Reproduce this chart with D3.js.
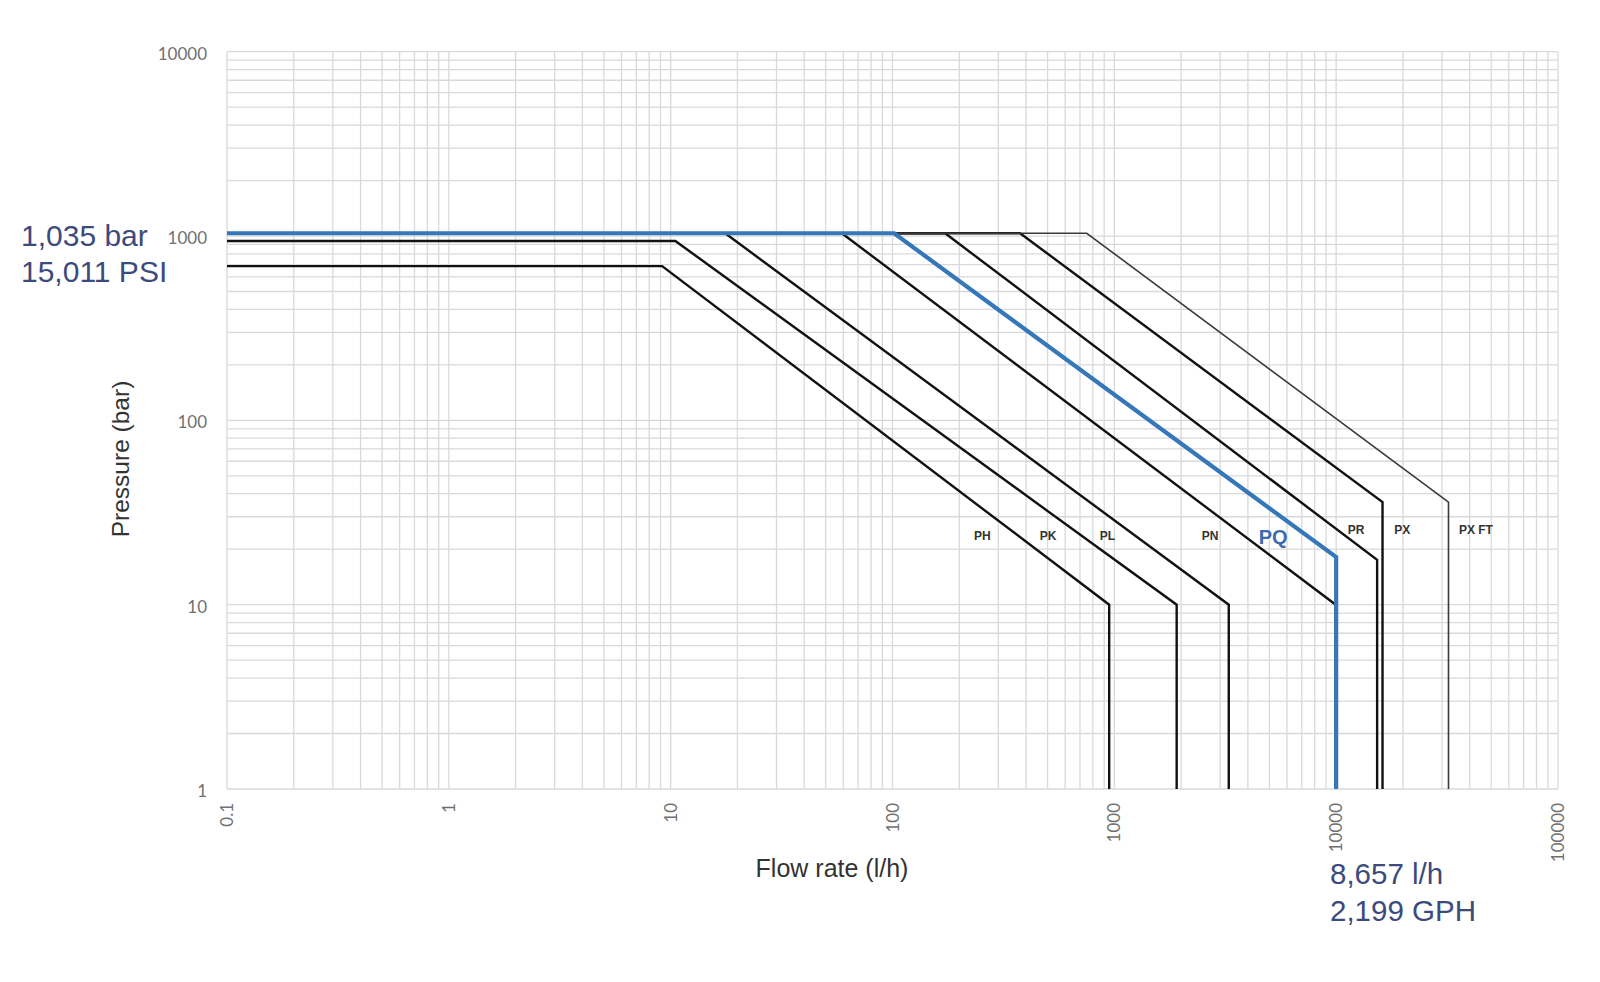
<!DOCTYPE html>
<html>
<head>
<meta charset="utf-8">
<script src="https://cdn.jsdelivr.net/npm/d3@7"></script>
<style>
  html, body { margin: 0; padding: 0; background: #ffffff; }
  svg { display: block; }
</style>
</head>
<body>
<svg id="chart" width="1600" height="982"></svg>
<script>
// ---------------- DATA ----------------
const seriesNames = ["PH", "PK", "PL", "PN", "PQ", "PR", "PX", "PX FT"];

// flow rate (l/h) break points for each pump curve
const phFlow   = [0.1, 9.15, 948, 948];
const pkFlow   = [0.1, 10.5, 1910, 1910];
const plFlow   = [0.1, 17.6, 3280, 3280];
const pnFlow   = [0.1, 59.1, 9950, 9950];
const pqFlow   = [0.1, 101.7, 10000, 10000];
const prFlow   = [0.1, 172.7, 15300, 15300];
const pxFlow   = [0.1, 376, 16180, 16180];
const pxftFlow = [0.1, 751, 32090, 32090];

// pressure (bar) break points for each pump curve
const phPressure   = [687, 687, 10, 1];
const pkPressure   = [940, 940, 10, 1];
const plPressure   = [1035, 1035, 10, 1];
const pnPressure   = [1035, 1035, 10, 1];
const pqPressure   = [1035, 1035, 18.1, 1];
const prPressure   = [1035, 1035, 17.5, 1];
const pxPressure   = [1035, 1035, 36, 1];
const pxftPressure = [1035, 1035, 36, 1];

const xTickValues = [0.1, 1, 10, 100, 1000, 10000, 100000];
const xTickLabels = ["0.1", "1", "10", "100", "1000", "10000", "100000"];
const yTickValues = [1, 10, 100, 1000, 10000];
const yTickLabels = ["1", "10", "100", "1000", "10000"];

const xTitle = "Flow rate (l/h)";
const yTitle = "Pressure (bar)";
const pressureNote = ["1,035 bar", "15,011 PSI"];
const flowNote = ["8,657 l/h", "2,199 GPH"];

// label anchor values (flow, pressure) for series names
const labelFlow     = [254, 503, 931, 2700, 5200, 12300, 19840, 42660];
const labelPressure = [22.4, 22.4, 22.4, 22.4, 21.4, 24.2, 24.2, 24.2];

// ---------------- CHART ----------------
const svg = d3.select("#chart");
const pLeft = 227, pRight = 1558, pTop = 51.7, pBottom = 789;

const x = d3.scaleLog().domain([0.1, 100000]).range([pLeft, pRight]);
const y = d3.scaleLog().domain([1, 10000]).range([pBottom, pTop]);

// grid
const grid = svg.append("g").attr("stroke", "#d9d9d9").attr("stroke-width", 1.3);
const xGrid = [];
for (let e = -1; e < 5; e++) for (let m = 1; m < 10; m++) xGrid.push(m * Math.pow(10, e));
xGrid.push(100000);
const yGrid = [];
for (let e = 0; e < 4; e++) for (let m = 1; m < 10; m++) yGrid.push(m * Math.pow(10, e));
yGrid.push(10000);

grid.selectAll("line.gx").data(xGrid).join("line").attr("class", "gx")
  .attr("x1", d => x(d)).attr("x2", d => x(d))
  .attr("y1", pTop).attr("y2", pBottom);
grid.selectAll("line.gy").data(yGrid).join("line").attr("class", "gy")
  .attr("x1", pLeft).attr("x2", pRight)
  .attr("y1", d => y(d)).attr("y2", d => y(d));

// tick labels
svg.append("g").selectAll("text").data(yTickValues).join("text")
  .attr("x", 207).attr("y", d => y(d) + 8)
  .attr("text-anchor", "end")
  .attr("font-family", "Lato, 'Liberation Sans', sans-serif")
  .attr("font-size", 17).attr("fill", "#707070")
  .text((d, i) => yTickLabels[i]);

svg.append("g").selectAll("text").data(xTickValues).join("text")
  .attr("transform", d => `translate(${x(d) + 6},803) rotate(-90)`)
  .attr("text-anchor", "end")
  .attr("font-family", "Lato, 'Liberation Sans', sans-serif")
  .attr("font-size", 17).attr("fill", "#707070")
  .text((d, i) => xTickLabels[i]);

// axis titles
svg.append("text")
  .attr("x", 832).attr("y", 877)
  .attr("text-anchor", "middle")
  .attr("font-family", "'Liberation Sans', Arial, sans-serif")
  .attr("font-size", 25).attr("fill", "#333")
  .text(xTitle);
svg.append("text")
  .attr("transform", "translate(129,459) rotate(-90)")
  .attr("text-anchor", "middle")
  .attr("font-family", "'Liberation Sans', Arial, sans-serif")
  .attr("font-size", 24.5).attr("fill", "#333")
  .text(yTitle);

// curves
const flows = [phFlow, pkFlow, plFlow, pnFlow, pqFlow, prFlow, pxFlow, pxftFlow];
const pressures = [phPressure, pkPressure, plPressure, pnPressure, pqPressure, prPressure, pxPressure, pxftPressure];
const series = seriesNames.map((name, i) => ({
  name,
  points: flows[i].map((f, j) => [f, pressures[i][j]])
}));

const line = d3.line().x(d => x(d[0])).y(d => y(d[1]));
const styleOf = name => {
  if (name === "PQ") return { stroke: "#3577b8", width: 4.2 };
  if (name === "PX FT") return { stroke: "#3a3a3a", width: 1.6 };
  return { stroke: "#111111", width: 2.4 };
};
const order = series.filter(s => s.name !== "PQ").concat(series.filter(s => s.name === "PQ"));
svg.append("g").selectAll("path").data(order).join("path")
  .attr("d", d => line(d.points))
  .attr("fill", "none")
  .attr("stroke", d => styleOf(d.name).stroke)
  .attr("stroke-width", d => styleOf(d.name).width)
  .attr("stroke-linejoin", "miter");

// series labels
svg.append("g").selectAll("text").data(seriesNames).join("text")
  .attr("x", (d, i) => x(labelFlow[i]))
  .attr("y", (d, i) => y(labelPressure[i]))
  .attr("text-anchor", "middle")
  .attr("font-family", "'Liberation Sans', Arial, sans-serif")
  .attr("font-weight", "bold")
  .attr("font-size", d => d === "PQ" ? 20 : 12)
  .attr("fill", d => d === "PQ" ? "#3a6cae" : "#333")
  .text(d => d);

// annotations
const noteFont = "'Liberation Sans', Arial, sans-serif";
svg.append("g").selectAll("text").data(pressureNote).join("text")
  .attr("x", 21).attr("y", (d, i) => 246 + i * 35.5)
  .attr("font-family", noteFont).attr("font-size", 30)
  .attr("fill", "#3d4a7c")
  .text(d => d);
svg.append("g").selectAll("text").data(flowNote).join("text")
  .attr("x", 1330).attr("y", (d, i) => 884 + i * 36.5)
  .attr("font-family", noteFont).attr("font-size", 29.5)
  .attr("fill", "#3d4a7c")
  .text(d => d);
</script>
</body>
</html>
